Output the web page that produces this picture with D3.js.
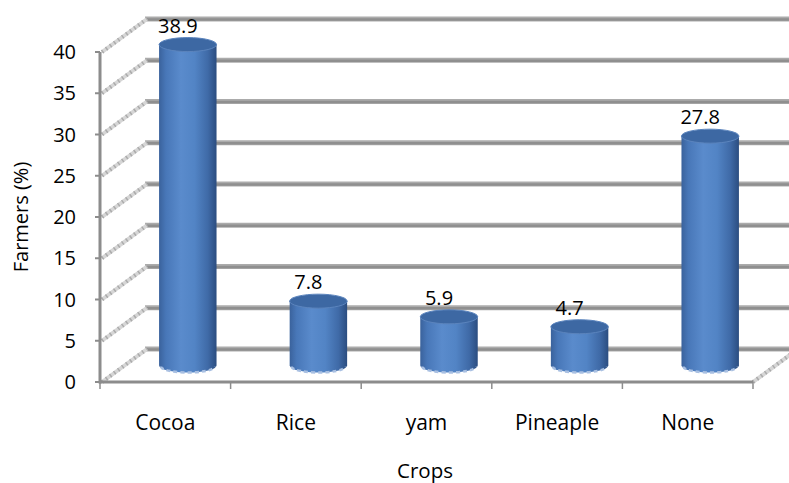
<!DOCTYPE html>
<html>
<head>
<meta charset="utf-8">
<script src="https://cdn.jsdelivr.net/npm/d3@7"></script>
<style>
  body { margin: 0; background: #fff; }
  text { font-family: "Open Sans", sans-serif; fill: #000; }
</style>
</head>
<body>
<script>
// Data
var crops = ["Cocoa", "Rice", "yam", "Pineaple", "None"];
var farmers = [38.9, 7.8, 5.9, 4.7, 27.8];
var yTicks = [0, 5, 10, 15, 20, 25, 30, 35, 40];

var w = 789, h = 483;
// depth of the 3D box (back wall offset)
var dx = 45, dy = -33;

var svg = d3.select("body").append("svg")
  .attr("width", w)
  .attr("height", h);

var defs = svg.append("defs");
var grad = defs.append("linearGradient")
  .attr("id", "cyl")
  .attr("x1", "0%").attr("x2", "100%").attr("y1", "0%").attr("y2", "0%");
[["0%", "#3a629c"], ["12%", "#4877b8"], ["38%", "#5a8bcc"], ["62%", "#5284c5"],
 ["85%", "#3f6aa7"], ["100%", "#2b4d80"]].forEach(function(s) {
  grad.append("stop").attr("offset", s[0]).attr("stop-color", s[1]);
});

// front scales
var x = d3.scaleBand()
  .domain(crops)
  .range([100, 753]);

var y = d3.scaleLinear()
  .domain([0, 40])
  .range([382, 52]);

// back wall gridlines
yTicks.forEach(function(t) {
  svg.append("line")
    .attr("x1", 100 + dx).attr("x2", 753 + dx)
    .attr("y1", y(t) + dy).attr("y2", y(t) + dy)
    .attr("stroke", "#ababab").attr("stroke-width", 5);
  svg.append("line")
    .attr("x1", 100 + dx).attr("x2", 753 + dx)
    .attr("y1", y(t) + dy + 0.5).attr("y2", y(t) + dy + 0.5)
    .attr("stroke", "#8f8f8f").attr("stroke-width", 2.5);
});

// side wall gridlines (hatched diagonals)
function hatch(x0, y0) {
  svg.append("line")
    .attr("x1", x0).attr("y1", y0)
    .attr("x2", x0 + dx).attr("y2", y0 + dy)
    .attr("stroke", "#d6d6d6").attr("stroke-width", 4);
  svg.append("line")
    .attr("x1", x0).attr("y1", y0)
    .attr("x2", x0 + dx).attr("y2", y0 + dy)
    .attr("stroke", "#ababab").attr("stroke-width", 4)
    .attr("stroke-dasharray", "1.5,3.5");
}
yTicks.forEach(function(t) { hatch(102, y(t)); });
hatch(753, y(0));

// y axis
svg.append("line")
  .attr("x1", 100).attr("x2", 100)
  .attr("y1", y(40)).attr("y2", y(0) + 1.5)
  .attr("stroke", "#8c8c8c").attr("stroke-width", 3);
yTicks.forEach(function(t) {
  svg.append("line")
    .attr("x1", 95).attr("x2", 100)
    .attr("y1", y(t)).attr("y2", y(t))
    .attr("stroke", "#8c8c8c").attr("stroke-width", 2);
  svg.append("text")
    .attr("x", 76).attr("y", y(t))
    .attr("dy", "0.36em")
    .attr("text-anchor", "end")
    .style("font-size", "20px")
    .text(t);
});

// x axis (floor front edge)
svg.append("line")
  .attr("x1", 99).attr("x2", 753)
  .attr("y1", y(0)).attr("y2", y(0))
  .attr("stroke", "#8c8c8c").attr("stroke-width", 3);
crops.concat(["end"]).forEach(function(c, i) {
  var xp = i < crops.length ? x(c) : x.range()[1];
  svg.append("line")
    .attr("x1", xp).attr("x2", xp)
    .attr("y1", y(0)).attr("y2", y(0) + 7)
    .attr("stroke", "#8c8c8c").attr("stroke-width", 1.5);
});

svg.selectAll(".cat")
  .data(crops)
  .enter()
  .append("text")
  .attr("class", "cat")
  .attr("x", function(d) { return x(d) + x.bandwidth() / 2; })
  .attr("y", 430)
  .attr("text-anchor", "middle")
  .style("font-size", "21px")
  .text(function(d) { return d; });

// cylinders, placed at mid depth
var rx = x.bandwidth() * 0.22, ry = 7;
crops.forEach(function(c, i) {
  var cx = x(c) + x.bandwidth() / 2 + dx / 2;
  var yb = y(0) + dy / 2;
  var yt = y(farmers[i]) + dy / 2;
  var g = svg.append("g");
  g.append("path")
    .attr("d", "M" + (cx - rx) + "," + yt +
      " L" + (cx - rx) + "," + yb +
      " A" + rx + "," + ry + " 0 0 0 " + (cx + rx) + "," + yb +
      " L" + (cx + rx) + "," + yt + " Z")
    .attr("fill", "url(#cyl)");
  // light fringe at the base
  g.append("path")
    .attr("d", "M" + (cx - rx + 2) + "," + (yb + 1) +
      " A" + (rx - 2) + "," + (ry - 1) + " 0 0 0 " + (cx + rx - 2) + "," + (yb + 1))
    .attr("fill", "none")
    .attr("stroke", "#a9c0e2").attr("stroke-width", 2.5)
    .attr("stroke-dasharray", "4,3");
  g.append("ellipse")
    .attr("cx", cx).attr("cy", yt)
    .attr("rx", rx).attr("ry", ry)
    .attr("fill", "#3d68a3")
    .attr("stroke", "#5b84bd").attr("stroke-width", 1);
  // data label
  svg.append("text")
    .attr("x", cx - 10).attr("y", yt - 12)
    .attr("text-anchor", "middle")
    .style("font-size", "20px")
    .text(farmers[i]);
});

// axis titles
svg.append("text")
  .attr("transform", "translate(28, 217) rotate(-90)")
  .attr("text-anchor", "middle")
  .style("font-size", "20px")
  .text("Farmers (%)");

svg.append("text")
  .attr("x", 425).attr("y", 478)
  .attr("text-anchor", "middle")
  .style("font-size", "20.5px")
  .text("Crops");
</script>
</body>
</html>
